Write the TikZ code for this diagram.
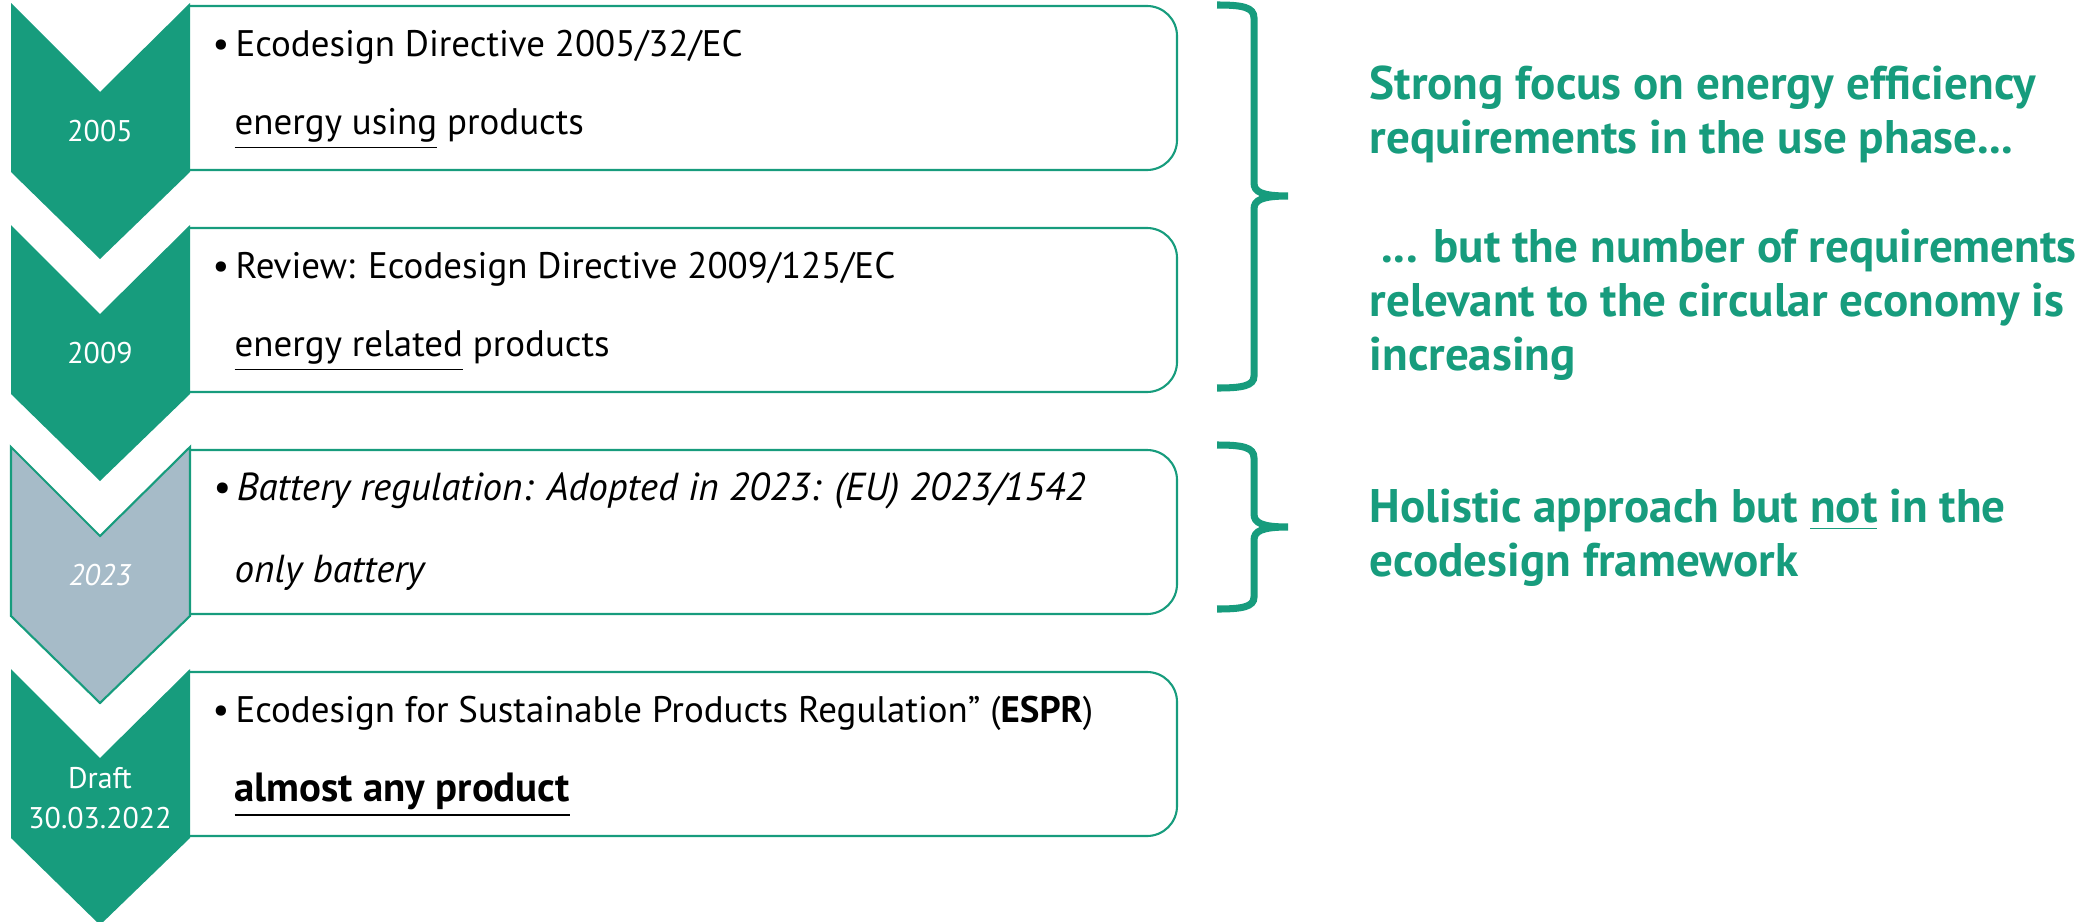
\documentclass[tikz,border=0pt]{standalone}
\usepackage{fontspec}
\setmainfont{PT Sans}
\usepackage{xcolor}
\definecolor{ecogreen}{HTML}{179C7D}
\definecolor{ecogrey}{HTML}{A6BBC8}

\begin{document}
\begin{tikzpicture}[x=0.01cm, y=-0.01cm,
        chevron/.style={fill=ecogreen, draw=none},
        chevrongrey/.style={fill=ecogrey, draw=ecogreen, line width=0.6pt},
        boxline/.style={draw=ecogreen, line width=0.6pt, rounded corners=0.3cm},
        bracestroke/.style={draw=ecogreen, line width=2pt},
        yearlabel/.style={text=white, align=center, inner sep=0pt, font=\fontsize{8.5}{11.4}\selectfont},
        itemtext/.style={anchor=west, inner sep=0pt, font=\fontsize{10.5}{12}\selectfont},
        slanttext/.style={itemtext, font=\fontsize{11.1}{12}\selectfont\itshape},
        strongtext/.style={itemtext, font=\fontsize{11.6}{12}\selectfont\bfseries},
        notetext/.style={anchor=west, align=left, inner sep=0pt, text=ecogreen, font=\fontsize{13.4}{15.4}\selectfont\bfseries}]
        \useasboundingbox (0,0) rectangle (2085,921);

        % Boxes, square on the left, round on the right
        \draw[boxline] (190,6) -- (1177,6) -- (1177,170) -- (190,170);
        \draw[boxline] (190,228) -- (1177,228) -- (1177,392) -- (190,392);
        \draw[boxline] (190,450) -- (1177,450) -- (1177,614) -- (190,614);
        \draw[boxline] (190,672) -- (1177,672) -- (1177,836) -- (190,836);

        % Chevrons of the time line
        \draw[chevron] (11,3) -- (100,92) -- (190,3) -- (190,172) -- (100,259) -- (11,172) -- cycle;
        \draw[chevron] (11,225) -- (100,314) -- (190,225) -- (190,394) -- (100,481) -- (11,394) -- cycle;
        \draw[chevrongrey] (11,447) -- (100,536) -- (190,447) -- (190,616) -- (100,703) -- (11,616) -- cycle;
        \draw[chevron] (11,669) -- (100,758) -- (190,669) -- (190,838) -- (100,925) -- (11,838) -- cycle;

        \node[yearlabel] (y2005) at (100,131) {2005};
        \node[yearlabel] (y2009) at (100,353) {2009};
        \node[yearlabel] (y2023) at (100,575) {\itshape 2023};
        \node[yearlabel] (ydraft) at (100,798) {Draft\\30.03.2022};

        % Texts in the boxes
        \node[itemtext] (ed1) at (212,47) {\textbullet\,Ecodesign Directive 2005/32/EC};
        \node[itemtext] (eup) at (234,129) {\underline{energy using} products};
        \node[itemtext] (ed2) at (212,269) {\textbullet\,Review: Ecodesign Directive 2009/125/EC};
        \node[itemtext] (erp) at (234,351) {\underline{energy related} products};
        \node[slanttext] (bat) at (212,491) {\textbullet\,Battery regulation: Adopted in 2023: (EU) 2023/1542};
        \node[slanttext] (obat) at (234,573) {only battery};
        \node[itemtext] (espr) at (212,713) {\textbullet\,Ecodesign for Sustainable Products Regulation”\ (\textbf{ESPR})};
        \node[strongtext] (any) at (234,795) {\underline{almost any product}};

        % Braces
        \draw[bracestroke] (1217,5) .. controls (1242,5) and (1254,7) .. (1254,18) -- (1254,183)
            .. controls (1254,192) and (1262,196) .. (1288,196)
            .. controls (1262,196) and (1254,200) .. (1254,209) -- (1254,376)
            .. controls (1254,386) and (1242,388) .. (1217,388);
        \draw[bracestroke] (1217,445) .. controls (1242,445) and (1254,447) .. (1254,458) -- (1254,514)
            .. controls (1254,523) and (1262,527) .. (1288,527)
            .. controls (1262,527) and (1254,531) .. (1254,540) -- (1254,597)
            .. controls (1254,607) and (1242,609) .. (1217,609);

        % Comments on the right
        \node[notetext] (focus) at (1369,114) {Strong focus on energy efficiency\\requirements in the use phase...};
        \node[notetext] (circ) at (1369,305) {\ ... but the number of requirements\\relevant to the circular economy is\\increasing};
        \node[notetext] (holist) at (1369,538) {Holistic approach but \underline{not} in the\\ecodesign framework};
    \end{tikzpicture}
\end{document}
